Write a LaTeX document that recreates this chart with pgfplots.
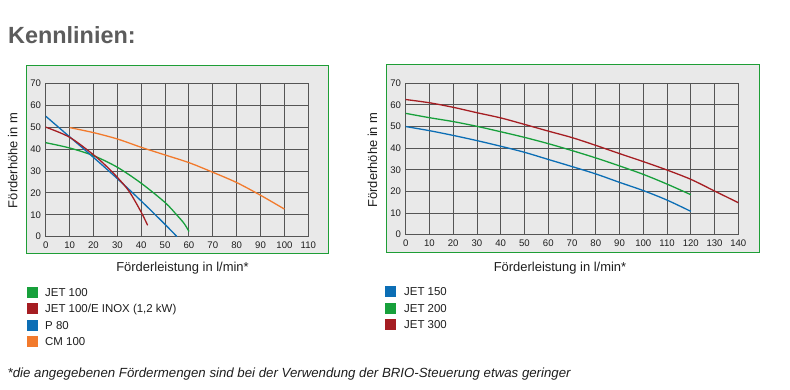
\documentclass[border=0pt]{standalone}
\usepackage{pgfplots}
\pgfplotsset{compat=1.18}
\usepackage{fontspec}
\setmainfont{Liberation Sans}
\definecolor{cgreen}{HTML}{17A03B}
\definecolor{cred}{HTML}{A51D22}
\definecolor{cblue}{HTML}{0C6EB5}
\definecolor{corange}{HTML}{F27A2C}
\definecolor{panel}{HTML}{E9E9E9}
\definecolor{gridc}{HTML}{555555}
\definecolor{framegreen}{HTML}{1E9E36}
\definecolor{titlegray}{HTML}{5C5C5C}
\definecolor{txt}{HTML}{1E1E1E}
\begin{document}
\begin{tikzpicture}[x=1bp,y=1bp]
\useasboundingbox (0,0) rectangle (790,389);
\fill[white] (0,0) rectangle (790,389);
% panels
\draw[framegreen, fill=panel, line width=1.1bp] (26.5,323.5) rectangle (328.5,135.5);
\draw[framegreen, fill=panel, line width=1.1bp] (386.5,324.5) rectangle (759.5,136.5);
\pgfplotsset{
  chartstyle/.style={
    scale only axis,
    anchor=south west,
    ymin=0, ymax=70,
    ytick={0,10,...,70},
    grid=major,
    grid style={gridc, line width=0.9bp},
    axis line style={gridc, line width=0.9bp},
    major tick length=0pt,
    tick label style={font=\fontsize{9.6}{10}\selectfont, text=txt},
    /pgf/number format/assume math mode=true,
    xticklabel style={anchor=north, inner sep=0pt, yshift=-5bp},
    yticklabel style={anchor=east, inner sep=0pt, xshift=-4.5bp},
    every axis plot/.append style={line width=1.3bp, smooth, no marks},
    clip=true,
  }
}
% left chart
\begin{axis}[chartstyle,
  at={(45.7bp,152.3bp)}, width=262.6bp, height=153.4bp,
  xmin=0, xmax=110, xtick={0,10,...,110}]
\addplot[cgreen] coordinates {(0,42.9) (10,40.5) (20,37) (30,31.7) (40,24.4) (50,15.6) (55,9.8) (58,6) (60,2.4)};
\addplot[cblue] coordinates {(0,55) (10,45.6) (20,36.2) (30,26.5) (40,16.3) (50,5.6) (55,0)};
\addplot[cred] coordinates {(0,50) (10,45.4) (20,37.4) (25,32.6) (30,27.1) (35,20.6) (40,11.2) (42.7,5.2)};
\addplot[corange] coordinates {(10,49.8) (20,47.5) (30,44.6) (40,40.8) (50,37.3) (60,33.8) (70,29.4) (80,24.7) (90,18.9) (100,12.6)};
\end{axis}
% right chart
\begin{axis}[chartstyle,
  at={(405.7bp,154.3bp)}, width=332.6bp, height=151.4bp,
  xmin=0, xmax=140, xtick={0,10,...,140}]
\addplot[cblue] coordinates {(0,50) (10,48.1) (20,45.9) (30,43.5) (40,40.9) (50,38.1) (60,34.8) (70,31.5) (80,28.1) (90,24.2) (100,20.4) (110,16) (120,10.8)};
\addplot[cgreen] coordinates {(0,56.1) (10,54.1) (20,52.3) (30,50.1) (40,47.6) (50,45) (60,42.1) (70,38.9) (80,35.5) (90,31.8) (100,27.9) (110,23.4) (120,18.5)};
\addplot[cred] coordinates {(0,62.5) (10,61) (20,58.9) (30,56.4) (40,54) (50,51) (60,47.9) (70,44.9) (80,41.3) (90,37.5) (100,33.8) (110,29.9) (120,25.6) (130,20.2) (140,14.8)};
\end{axis}
% title
\node[anchor=base west, inner sep=0pt, text=titlegray, font=\fontsize{23.5}{26}\selectfont\bfseries] at (8,346) {Kennlinien:};
% axis labels
\node[anchor=center, inner sep=0pt, text=txt, font=\fontsize{13}{15}\selectfont] at (182.5,121) {Förderleistung in l/min*};
\node[anchor=center, inner sep=0pt, text=txt, font=\fontsize{13}{15}\selectfont] at (560,121) {Förderleistung in l/min*};
\node[anchor=center, inner sep=0pt, rotate=90, text=txt, font=\fontsize{13}{15}\selectfont] at (12.8,228.5) {Förderhöhe in m};
\node[anchor=center, inner sep=0pt, rotate=90, text=txt, font=\fontsize{13}{15}\selectfont] at (372.5,229) {Förderhöhe in m};
% legend left
\foreach \c/\yc/\t in {cgreen/292/{JET 100}, cred/308.6/{JET 100/E INOX (1,2 kW)}, cblue/325.2/{P 80}, corange/341.8/{CM 100}}{
  \fill[\c] (26.5,389-\yc-5.5) rectangle (37.5,389-\yc+5.5);
  \node[anchor=base west, inner sep=0pt, text=txt, font=\fontsize{11.5}{13}\selectfont] at (45,389-\yc-4.1) {\t};
}
% legend right
\foreach \c/\yc/\t in {cblue/291.6/{JET 150}, cgreen/308.2/{JET 200}, cred/324.8/{JET 300}}{
  \fill[\c] (385,389-\yc-5.5) rectangle (396,389-\yc+5.5);
  \node[anchor=base west, inner sep=0pt, text=txt, font=\fontsize{11.5}{13}\selectfont] at (404,389-\yc-4.1) {\t};
}
% footnote
\node[anchor=base west, inner sep=0pt, text=txt, font=\fontsize{13.3}{15}\selectfont\itshape] at (7.5,11.5) {*die angegebenen Fördermengen sind bei der Verwendung der BRIO-Steuerung etwas geringer};
\end{tikzpicture}
\end{document}
